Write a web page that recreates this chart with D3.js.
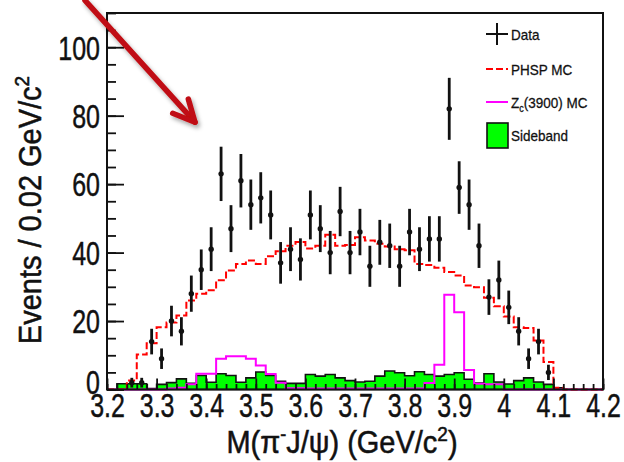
<!DOCTYPE html>
<html><head><meta charset="utf-8">
<script src="https://cdn.jsdelivr.net/npm/d3@7"></script>
<style>body{margin:0;background:#fff}svg{display:block}</style>
</head><body>
<svg id="chart" width="624" height="462"></svg>
<script>
// ---- data (50 bins of 0.02 GeV/c^2 from 3.2 to 4.2) ----
const binLow = 3.2;
const binWidth = 0.02;
const dataCounts = [0,0,2,2,14,9,20,17,28,35,41,63,47,61,54,56,51,37,41,38,51,47,40,52,40,46,36,43,42,36,46,41,44,44,82,59,54,42,27,32,24,17,9,14,5,0,0,0,0,0];
const phspMC = [0,0,2.6,10.2,13.5,18.2,19.6,21.6,26,28,29,31.9,34.8,36.7,37.7,36.7,38.9,40.4,42,43.1,41.2,42,45.2,42,42.2,44.5,43.5,42.6,41.8,41,40.7,36.7,36.4,35.6,34.3,33.3,30.4,29.9,26.8,24.3,21.3,18.2,18,14.3,8,0.5,0,0,0,0];
const zcMC = [0,0,0,0,0,0,0.3,0.5,1.5,4.6,4.6,9,9.7,9.7,9,7,4.5,2,0.4,0.4,0.3,0.3,0.3,0.3,0.3,0.3,0.3,0.3,0.3,0.3,0.3,0.3,1.9,7.2,27.7,22.6,5.7,1.7,1.5,1.5,0,0,0,0,0,0,0,0,0,0];
const sideband = [0,1.7,1.7,1.7,0.3,1.5,2,3.1,1.8,4.1,2.1,4.6,4.1,2.1,3.4,5.1,4.1,2.4,1.8,1.8,4.4,3.9,4.4,3.4,2.6,2.2,2.4,3.9,5.4,4.9,4,5.2,4.4,3.9,4.4,4.9,3,1.9,4.6,2.2,1.6,2.6,3.4,2.2,1.5,0.5,0,0,0,0];
const xTickValues = [3.2,3.3,3.4,3.5,3.6,3.7,3.8,3.9,4.0,4.1,4.2];
const xTickLabels = ["3.2","3.3","3.4","3.5","3.6","3.7","3.8","3.9","4","4.1","4.2"];
const yTickValues = [0,20,40,60,80,100];
const yTickLabels = ["0","20","40","60","80","100"];
const legendLabels = ["Data","PHSP MC","Zc(3900) MC","Sideband"];
const arrowStart = [3.1556, 113.7];
const arrowTip = [3.3774, 78.1];

// ---- layout ----
const L = 107, R = 603, T = 13, B = 389.5;
const FONT = "'Liberation Sans', Arial, Helvetica, sans-serif";
const INK = "#111";
const svg = d3.select("#chart");
const x = d3.scaleLinear().domain([3.2, 4.2]).range([L, R]);
const y = d3.scaleLinear().domain([0, 110]).range([B, T]);

const edges = d3.range(51).map(i => binLow + i * binWidth);
function stepPoints(vals) {
  const pts = vals.map((v, i) => ({e: edges[i], v}));
  pts.push({e: edges[50], v: vals[vals.length - 1]});
  return pts;
}

// Sideband (filled)
svg.append("path")
  .datum(stepPoints(sideband))
  .attr("d", d3.area().curve(d3.curveStepAfter).x(d => x(d.e)).y0(y(0)).y1(d => y(d.v)))
  .attr("fill", "#00ff00").attr("stroke", INK).attr("stroke-width", 1.6);

// Zc MC
svg.append("path")
  .datum(stepPoints(zcMC))
  .attr("d", d3.line().curve(d3.curveStepAfter).x(d => x(d.e)).y(d => y(d.v)))
  .attr("fill", "none").attr("stroke", "#ff00ff").attr("stroke-width", 2);

// PHSP MC
svg.append("path")
  .datum(stepPoints(phspMC))
  .attr("d", d3.line().curve(d3.curveStepAfter).x(d => x(d.e)).y(d => y(d.v)))
  .attr("fill", "none").attr("stroke", "#ff0000").attr("stroke-width", 2)
  .attr("stroke-dasharray", "7,3");

// Data points
const pts = dataCounts.map((c, i) => ({m: binLow + (i + 0.5) * binWidth, c})).filter(d => d.c > 0);
const dg = svg.append("g");
dg.selectAll("line.err").data(pts).join("line").attr("class", "err")
  .attr("x1", d => x(d.m)).attr("x2", d => x(d.m))
  .attr("y1", d => y(Math.max(0, d.c - Math.sqrt(d.c)))).attr("y2", d => y(d.c + Math.sqrt(d.c)))
  .attr("stroke", INK).attr("stroke-width", 2.8);
dg.selectAll("circle").data(pts).join("circle")
  .attr("cx", d => x(d.m)).attr("cy", d => y(d.c)).attr("r", 2.7).attr("fill", INK);

// Frame
svg.append("rect").attr("x", L).attr("y", T).attr("width", R - L).attr("height", B - T)
  .attr("fill", "none").attr("stroke", INK).attr("stroke-width", 2);

// Axes ticks
const xMinor = d3.range(51).map(i => binLow + i * binWidth);
const yMinor = d3.range(0, 111, 5);
svg.append("g").attr("transform", `translate(0,${B})`)
  .call(d3.axisBottom(x).tickValues(xMinor).tickSize(-5.5).tickFormat(""))
  .call(g => g.select(".domain").remove())
  .call(g => g.selectAll("line").attr("stroke", INK).attr("stroke-width", 1.8));
svg.append("g").attr("transform", `translate(${L},0)`)
  .call(d3.axisLeft(y).tickValues(yMinor).tickSize(-9).tickFormat(""))
  .call(g => g.select(".domain").remove())
  .call(g => g.selectAll("line").attr("stroke", INK).attr("stroke-width", 1.8));

const TS = 25, TSY = 1.32;
svg.append("g").attr("transform", `translate(0,${B})`)
  .call(d3.axisBottom(x).tickValues(xTickValues).tickSize(-11).tickPadding(0)
    .tickFormat((d, i) => xTickLabels[i]))
  .call(g => g.select(".domain").remove())
  .call(g => g.selectAll("line").attr("stroke", INK).attr("stroke-width", 1.8))
  .call(g => g.selectAll("text").attr("dy", null).attr("y", 0)
    .attr("transform", `translate(0,${417 - B}) scale(1,${TSY})`)
    .attr("font-family", FONT).attr("font-size", TS).attr("fill", INK)
    .attr("stroke", INK).attr("stroke-width", 0.35));
svg.append("g").attr("transform", `translate(${L},0)`)
  .call(d3.axisLeft(y).tickValues(yTickValues).tickSize(-17).tickPadding(0)
    .tickFormat((d, i) => yTickLabels[i]))
  .call(g => g.select(".domain").remove())
  .call(g => g.selectAll("line").attr("stroke", INK).attr("stroke-width", 1.8))
  .call(g => g.selectAll("text").attr("dy", null).attr("x", 0)
    .attr("transform", d => `translate(-7,${0.358 * TS * TSY - (d === 0 ? 8 : 0)}) scale(1,${TSY})`)
    .attr("font-family", FONT).attr("font-size", TS).attr("fill", INK)
    .attr("stroke", INK).attr("stroke-width", 0.35));

// Axis titles
const yt = svg.append("text").attr("transform", "translate(41,210) rotate(-90) scale(1,1.1)")
  .attr("text-anchor", "middle").attr("font-family", FONT).attr("font-size", 29).attr("fill", INK)
  .attr("stroke", INK).attr("stroke-width", 0.5);
yt.append("tspan").text("Events / 0.02 GeV/c");
yt.append("tspan").attr("font-size", 19).attr("dy", -11).text("2");

const xt = svg.append("text").attr("transform", "translate(342,453) scale(1,1.1)")
  .attr("text-anchor", "middle").attr("font-family", FONT).attr("font-size", 29).attr("fill", INK)
  .attr("stroke", INK).attr("stroke-width", 0.5);
xt.append("tspan").text("M(π");
xt.append("tspan").attr("font-size", 18).attr("dy", -11).text("-");
xt.append("tspan").attr("dy", 11).text("J/ψ) (GeV/c");
xt.append("tspan").attr("font-size", 19).attr("dy", -11).text("2");
xt.append("tspan").attr("dy", 11).text(")");

// Legend
const lg = svg.append("g");
const LX = 486, LW = 22;
const rows = [34, 69, 102, 135];
lg.append("line").attr("x1", LX).attr("x2", LX + LW).attr("y1", rows[0]).attr("y2", rows[0]).attr("stroke", INK).attr("stroke-width", 2);
lg.append("line").attr("x1", LX + LW / 2).attr("x2", LX + LW / 2).attr("y1", rows[0] - 11).attr("y2", rows[0] + 11).attr("stroke", INK).attr("stroke-width", 2);
lg.append("line").attr("x1", LX).attr("x2", LX + LW).attr("y1", rows[1]).attr("y2", rows[1]).attr("stroke", "#ff0000").attr("stroke-width", 2).attr("stroke-dasharray", "7,3");
lg.append("line").attr("x1", LX).attr("x2", LX + LW).attr("y1", rows[2]).attr("y2", rows[2]).attr("stroke", "#ff00ff").attr("stroke-width", 2);
lg.append("rect").attr("x", LX + 1).attr("y", rows[3] - 12).attr("width", 21).attr("height", 25).attr("fill", "#00ff00").attr("stroke", INK).attr("stroke-width", 1.6);
const LFS = 13.5, LSY = 1.15;
legendLabels.forEach((lab, i) => {
  const t = lg.append("text").attr("transform", `translate(${LX + LW + 3},${rows[i] + 0.358 * LFS * LSY}) scale(1,${LSY})`)
    .attr("font-family", FONT).attr("font-size", LFS).attr("fill", INK)
    .attr("stroke", INK).attr("stroke-width", 0.25);
  if (lab.startsWith("Zc")) {
    t.append("tspan").text("Z");
    t.append("tspan").attr("font-size", 9).attr("dy", 4).text("c");
    t.append("tspan").attr("dy", -4).text(lab.slice(2));
  } else t.text(lab);
});

// Annotation arrow
const defs = svg.append("defs");
defs.append("filter").attr("id", "sh").attr("x", "-20%").attr("y", "-20%").attr("width", "140%").attr("height", "140%")
  .append("feDropShadow").attr("dx", 2).attr("dy", 3).attr("stdDeviation", 2).attr("flood-color", "#000").attr("flood-opacity", 0.35);
const sx = x(arrowStart[0]), sy = y(arrowStart[1]), tx = x(arrowTip[0]), ty = y(arrowTip[1]);
const ang = Math.atan2(sy - ty, sx - tx);
const bl = 24, ba = 26 * Math.PI / 180;
const b1 = [tx + bl * Math.cos(ang + ba), ty + bl * Math.sin(ang + ba)];
const b2 = [tx + bl * Math.cos(ang - ba), ty + bl * Math.sin(ang - ba)];
const ag = svg.append("g").attr("filter", "url(#sh)").attr("stroke", "#c00d12").attr("stroke-width", 5.5)
  .attr("stroke-linecap", "round").attr("stroke-linejoin", "round").attr("fill", "none");
ag.append("path").attr("d", `M${sx},${sy}L${tx},${ty}`);
ag.append("path").attr("d", `M${b1[0]},${b1[1]}L${tx},${ty}L${b2[0]},${b2[1]}`);
</script>
</body></html>
